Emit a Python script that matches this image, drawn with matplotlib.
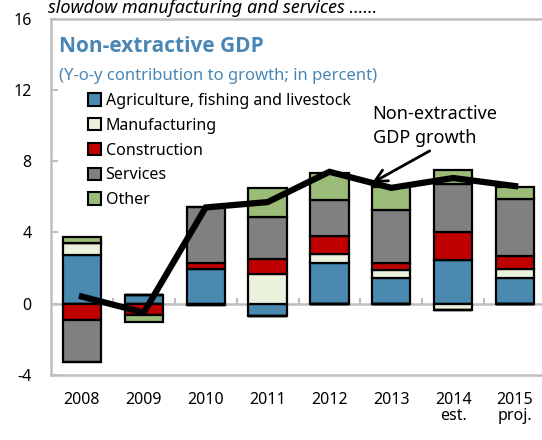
import numpy as np
import matplotlib
matplotlib.use('Agg')
import matplotlib.pyplot as plt
from matplotlib.patches import Patch

plt.rcParams['font.family'] = ['Noto Sans', 'DejaVu Sans']
plt.rcParams['axes.unicode_minus'] = False

years = ['2008', '2009', '2010', '2011', '2012', '2013', '2014\nest.', '2015\nproj.']
agri = np.array([2.75, 0.5, 1.95, -0.7, 2.28, 1.44, 2.46, 1.44])
manuf = np.array([0.65, 0.0, -0.1, 1.66, 0.5, 0.46, -0.34, 0.5])
constr = np.array([-0.93, -0.65, 0.33, 0.87, 0.99, 0.41, 1.59, 0.75])
services = np.array([-2.36, 0.0, 3.14, 2.36, 2.02, 2.96, 2.67, 3.17])
other = np.array([0.35, -0.35, 0.0, 1.59, 1.57, 1.25, 0.78, 0.68])
growth = np.array([0.4, -0.5, 5.4, 5.7, 7.4, 6.5, 7.05, 6.6])

series = [
    ('Agriculture, fishing and livestock', agri, '#4a8ab0'),
    ('Manufacturing', manuf, '#eaf1dd'),
    ('Construction', constr, '#c00000'),
    ('Services', services, '#808080'),
    ('Other', other, '#9bbb78'),
]

W, H = 542, 440
fig = plt.figure(figsize=(W / 100, H / 100), dpi=100)
ax = fig.add_axes([51 / W, (H - 375) / H, (546 - 51) / W, (375 - 18.5) / H])

x = np.arange(len(years))
pos_base = np.zeros(len(years))
neg_base = np.zeros(len(years))
for name, vals, col in series:
    p = np.where(vals > 0, vals, 0)
    n = np.where(vals < 0, vals, 0)
    ax.bar(x, p, 0.62, bottom=pos_base, color=col, edgecolor='black', linewidth=1.6, zorder=3)
    ax.bar(x, n, 0.62, bottom=neg_base, color=col, edgecolor='black', linewidth=1.6, zorder=3)
    pos_base += p
    neg_base += n

ax.plot(x, growth, color='black', linewidth=4.5, solid_joinstyle='miter', zorder=5)

# zero line with small separator ticks
ax.axhline(0, color='#bfbfbf', linewidth=1.8, zorder=2)
ax.vlines(x[:-1] + 0.5, 0, 0.3, color='#bfbfbf', linewidth=1.5, zorder=2)

ax.set_xlim(-0.5, 7.5)
ax.set_ylim(-4, 16)
ax.set_yticks([-4, 0, 4, 8, 12, 16])
ax.set_xticks(x)
ax.set_xticklabels(years, fontsize=11.5, linespacing=1.0)
ax.tick_params(axis='x', length=0, pad=12)
ax.tick_params(axis='y', direction='in', length=5, color='#bfbfbf', width=1.5, pad=14, labelsize=11.5)
for s in ax.spines.values():
    s.set_color('#bfbfbf')
    s.set_linewidth(1.8)

def fx(px):
    return px / W

def fy(py):
    return (H - py) / H

fig.text(fx(48), fy(13), 'slowdow manufacturing and services ......', style='italic',
         fontsize=13, va='baseline', ha='left')
fig.text(fx(59), fy(47), 'Non-extractive GDP', fontsize=15, fontweight='bold',
         family=['Open Sans', 'DejaVu Sans'], color='#4a86b4', va='center', ha='left')
fig.text(fx(59), fy(76), '(Y-o-y contribution to growth; in percent)', fontsize=12,
         color='#4a86b4', va='center', ha='left')

handles = [Patch(facecolor=c, edgecolor='black', linewidth=1.5, label=n) for n, _, c in series]
fig.legend(handles=handles, loc='upper left', bbox_to_anchor=(fx(88), fy(93)),
           frameon=False, fontsize=11.5, handlelength=0.8, handleheight=0.8,
           handletextpad=0.3, labelspacing=0.55, borderpad=0, borderaxespad=0)

ax.text(4.70, 11.15, 'Non-extractive\nGDP growth', fontsize=13, linespacing=1.45,
        ha='left', va='top')
ax.annotate('', xy=(4.65, 6.7), xytext=(5.66, 8.65),
            arrowprops=dict(arrowstyle='->', color='black', lw=2, mutation_scale=22))

fig.savefig('out.png', dpi=100)
